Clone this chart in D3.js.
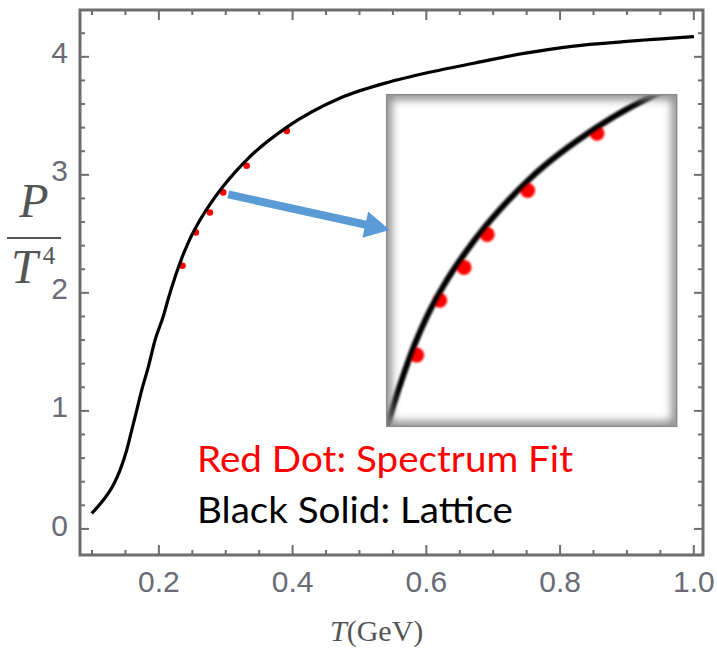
<!DOCTYPE html>
<html>
<head>
<meta charset="utf-8">
<script src="https://cdn.jsdelivr.net/npm/d3@7"></script>
<style>
  html, body { margin: 0; padding: 0; background: #fff; }
  svg { display: block; }
</style>
</head>
<body>
<svg id="chart" width="717" height="651"></svg>
<script>
// MARK: data.

// lattice curve, P/T^4 against T (GeV)
const latticeT = [0.1003, 0.1177, 0.1326, 0.1427, 0.1527, 0.1602, 0.1677, 0.1751, 0.1850, 0.1951,
                  0.2075, 0.2150, 0.2250, 0.2350, 0.2449, 0.2599, 0.2774, 0.2949, 0.3148, 0.3347,
                  0.3922, 0.4720, 0.5469, 0.6217, 0.6716, 0.7464, 0.8213, 0.8961, 1.0009]
const latticeP = [0.127, 0.240, 0.367, 0.494, 0.664, 0.833, 1.003, 1.172, 1.369, 1.596,
                  1.800, 1.950, 2.130, 2.290, 2.424, 2.589, 2.747, 2.884, 3.019, 3.138,
                  3.400, 3.647, 3.785, 3.884, 3.941, 4.025, 4.087, 4.124, 4.166]

// spectrum fit points
const fitT = [0.2360, 0.2560, 0.2770, 0.2970, 0.3320, 0.3920]
const fitP = [2.225, 2.508, 2.677, 2.847, 3.073, 3.368]

const xTicks      = [0.2, 0.4, 0.6, 0.8, 1.0]
const xTickLabels = ['0.2', '0.4', '0.6', '0.8', '1.0']
const yTicks      = [0, 1, 2, 3, 4]
const yTickLabels = ['0', '1', '2', '3', '4']

const legendLabels = ['Red Dot: Spectrum Fit', 'Black Solid: Lattice']
const legendColors = ['#ff0000', '#000000']

// MARK: layout.

const FRAME   = { left: 80, top: 10, right: 703, bottom: 555 }
const INSET   = { left: 386.7, top: 94.7, right: 676.7, bottom: 426.3 }
const X_RANGE = [0.0828, 1.0145]
const Y_RANGE = [-0.2254, 4.3924]
// the window of the curve the inset magnifies
const INSET_X = [0.2101, 0.4609]
const INSET_Y = [1.858, 3.567]

const AXIS_COLOR  = '#6e6e6e'
const LABEL_COLOR = '#6b6b78'
const ARROW_COLOR = '#5b9bd5'

const svg = d3.select('#chart')

const x = d3.scaleLinear().domain(X_RANGE).range([FRAME.left, FRAME.right])
const y = d3.scaleLinear().domain(Y_RANGE).range([FRAME.bottom, FRAME.top])

const latticeData = latticeT.map((t, i) => ({ t, p: latticeP[i] }))
const fitData     = fitT.map((t, i) => ({ t, p: fitP[i] }))

const defs = svg.append('defs')
defs.append('clipPath').attr('id', 'plot-clip')
  .append('rect')
  .attr('x'     , FRAME.left)
  .attr('y'     , FRAME.top)
  .attr('width' , FRAME.right - FRAME.left)
  .attr('height', FRAME.bottom - FRAME.top)
defs.append('clipPath').attr('id', 'inset-clip')
  .append('rect')
  .attr('x'     , INSET.left)
  .attr('y'     , INSET.top)
  .attr('width' , INSET.right - INSET.left)
  .attr('height', INSET.bottom - INSET.top)
defs.append('filter').attr('id', 'soft')
  .append('feGaussianBlur').attr('stdDeviation', 1.3)
defs.append('filter').attr('id', 'shade')
  .attr('x', '-20%').attr('y', '-20%').attr('width', '140%').attr('height', '140%')
  .append('feGaussianBlur').attr('stdDeviation', 4)

// MARK: axes (ticks point inward, mirrored on top and right like a frame).

const minorX = d3.range(0.1, 1.0001, 0.05).filter((v) => !xTicks.some((t) => Math.abs(t - v) < 1e-6))
const minorY = d3.range(0, 4.3, 0.2).filter((v) => !yTicks.some((t) => Math.abs(t - v) < 1e-6))

function styleAxis(g) {
  g.select('.domain').remove()
  g.selectAll('line').attr('stroke', AXIS_COLOR).attr('stroke-width', 2)
  g.selectAll('text')
    .attr('fill'       , LABEL_COLOR)
    .attr('font-size'  , 30)
    .attr('font-family', '"Liberation Sans", Arial, sans-serif')
}

svg.append('g').attr('transform', `translate(0,${FRAME.bottom})`)
  .call(d3.axisBottom(x).tickValues(xTicks).tickSize(-10).tickPadding(16)
    .tickFormat((d, i) => xTickLabels[i]))
  .call(styleAxis)
svg.append('g').attr('transform', `translate(0,${FRAME.bottom})`)
  .call(d3.axisBottom(x).tickValues(minorX).tickSize(-5).tickFormat(''))
  .call(styleAxis)
svg.append('g').attr('transform', `translate(0,${FRAME.top})`)
  .call(d3.axisTop(x).tickValues(xTicks).tickSize(-10).tickFormat(''))
  .call(styleAxis)
svg.append('g').attr('transform', `translate(0,${FRAME.top})`)
  .call(d3.axisTop(x).tickValues(minorX).tickSize(-5).tickFormat(''))
  .call(styleAxis)

svg.append('g').attr('transform', `translate(${FRAME.left},0)`)
  .call(d3.axisLeft(y).tickValues(yTicks).tickSize(-9).tickPadding(12)
    .tickFormat((d, i) => yTickLabels[i]))
  .call(styleAxis)
  .call((g) => g.selectAll('text').attr('dy', '0.22em'))
svg.append('g').attr('transform', `translate(${FRAME.left},0)`)
  .call(d3.axisLeft(y).tickValues(minorY).tickSize(-5).tickFormat(''))
  .call(styleAxis)
svg.append('g').attr('transform', `translate(${FRAME.right},0)`)
  .call(d3.axisRight(y).tickValues(yTicks).tickSize(-9).tickFormat(''))
  .call(styleAxis)
svg.append('g').attr('transform', `translate(${FRAME.right},0)`)
  .call(d3.axisRight(y).tickValues(minorY).tickSize(-5).tickFormat(''))
  .call(styleAxis)

svg.append('rect')
  .attr('x'           , FRAME.left)
  .attr('y'           , FRAME.top)
  .attr('width'       , FRAME.right - FRAME.left)
  .attr('height'      , FRAME.bottom - FRAME.top)
  .attr('fill'        , 'none')
  .attr('stroke'      , AXIS_COLOR)
  .attr('stroke-width', 3)

// MARK: main plot.

const plot = svg.append('g').attr('clip-path', 'url(#plot-clip)')

const line = d3.line()
  .x((d) => x(d.t))
  .y((d) => y(d.p))
  .curve(d3.curveMonotoneX)

plot.selectAll('circle.fit')
  .data(fitData).enter()
  .append('circle')
  .attr('class', 'fit')
  .attr('cx'   , (d) => x(d.t))
  .attr('cy'   , (d) => y(d.p))
  .attr('r'    , 3.3)
  .attr('fill' , '#ff0000')

plot.append('path')
  .datum(latticeData)
  .attr('d'           , line)
  .attr('fill'        , 'none')
  .attr('stroke'      , '#000')
  .attr('stroke-width', 3.2)

// MARK: legend text.

const legend = svg.append('g')
  .attr('font-family', 'Lato, "Open Sans", sans-serif')
  .attr('font-size'  , 37)
legend.selectAll('text')
  .data(legendLabels).enter()
  .append('text')
  .attr('x'           , 197)
  .attr('y'           , (d, i) => 472 + i * 51)
  .attr('fill'        , (d, i) => legendColors[i])
  .attr('textLength'  , (d, i) => [376, 316][i])
  .attr('lengthAdjust', 'spacingAndGlyphs')
  .text((d) => d)

// MARK: inset, a blurry magnification of the fit region.

const ix = d3.scaleLinear().domain(INSET_X).range([INSET.left, INSET.right])
const iy = d3.scaleLinear().domain(INSET_Y).range([INSET.bottom, INSET.top])

const inset = svg.append('g').attr('clip-path', 'url(#inset-clip)')
inset.append('rect')
  .attr('x'     , INSET.left)
  .attr('y'     , INSET.top)
  .attr('width' , INSET.right - INSET.left)
  .attr('height', INSET.bottom - INSET.top)
  .attr('fill'  , '#fff')

const insetMarks = inset.append('g').attr('filter', 'url(#soft)')
insetMarks.selectAll('circle')
  .data(fitData).enter()
  .append('circle')
  .attr('cx'  , (d) => ix(d.t))
  .attr('cy'  , (d) => iy(d.p))
  .attr('r'   , 7.5)
  .attr('fill', '#ff0000')
insetMarks.append('path')
  .datum(latticeData)
  .attr('d', d3.line().x((d) => ix(d.t)).y((d) => iy(d.p)).curve(d3.curveMonotoneX))
  .attr('fill'        , 'none')
  .attr('stroke'      , '#000')
  .attr('stroke-width', 6)

// inner shading along the inset border
inset.append('rect')
  .attr('x'           , INSET.left)
  .attr('y'           , INSET.top)
  .attr('width'       , INSET.right - INSET.left)
  .attr('height'      , INSET.bottom - INSET.top)
  .attr('fill'        , 'none')
  .attr('stroke'      , '#8a8a8a')
  .attr('stroke-width', 10)
  .attr('filter'      , 'url(#shade)')
svg.append('rect')
  .attr('x'           , INSET.left)
  .attr('y'           , INSET.top)
  .attr('width'       , INSET.right - INSET.left)
  .attr('height'      , INSET.bottom - INSET.top)
  .attr('fill'        , 'none')
  .attr('stroke'      , '#8c8c8c')
  .attr('stroke-width', 1.5)

// MARK: arrow from the fit points to the inset.

const from = [x(fitT[3]) + 5, y(fitP[3]) + 2]
const tip  = [INSET.left + 3, iy(2.87)]
const len  = Math.hypot(tip[0] - from[0], tip[1] - from[1])
const ux   = (tip[0] - from[0]) / len
const uy   = (tip[1] - from[1]) / len
const HEAD_LEN  = 25
const HEAD_HALF = 13.5
const base = [tip[0] - ux * HEAD_LEN, tip[1] - uy * HEAD_LEN]

svg.append('line')
  .attr('x1'          , from[0])
  .attr('y1'          , from[1])
  .attr('x2'          , base[0] + ux * 2)
  .attr('y2'          , base[1] + uy * 2)
  .attr('stroke'      , ARROW_COLOR)
  .attr('stroke-width', 8)
svg.append('path')
  .attr('d', d3.line()([
    tip,
    [base[0] - uy * HEAD_HALF, base[1] + ux * HEAD_HALF],
    [base[0] + uy * HEAD_HALF, base[1] - ux * HEAD_HALF],
  ]) + 'Z')
  .attr('fill', ARROW_COLOR)

// MARK: axis titles.

const serif = '"Liberation Serif", "DejaVu Serif", serif'
const yTitle = svg.append('g').attr('font-family', serif).attr('fill', '#555')
yTitle.append('text')
  .attr('x'          , 34)
  .attr('y'          , 217)
  .attr('text-anchor', 'middle')
  .attr('font-size'  , 48)
  .attr('font-style' , 'italic')
  .text('P')
yTitle.append('line')
  .attr('x1', 7).attr('x2', 61)
  .attr('y1', 238).attr('y2', 238)
  .attr('stroke', '#555').attr('stroke-width', 2)
const tText = yTitle.append('text')
  .attr('x'        , 11)
  .attr('y'        , 283)
  .attr('font-size', 48)
tText.append('tspan').attr('font-style', 'italic').text('T')
tText.append('tspan').attr('font-size', 25).attr('dy', -19).attr('dx', 5).text('4')

const xTitle = svg.append('text')
  .attr('x'          , 330)
  .attr('y'          , 641)
  .attr('font-family', serif)
  .attr('font-size'  , 30)
  .attr('fill'       , '#555')
xTitle.append('tspan').attr('font-style', 'italic').text('T')
xTitle.append('tspan').text('(GeV)')
</script>
</body>
</html>
